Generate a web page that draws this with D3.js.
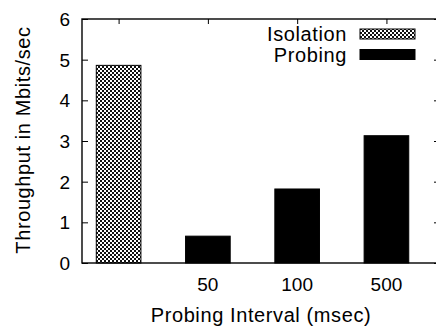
<!DOCTYPE html>
<meta charset="utf-8">
<style>
  body { margin: 0; background: #fff; }
  text { font-family: "Liberation Sans", Arial, sans-serif; font-size: 20px; letter-spacing: 0.6px; fill: #000; }
  text.ylab, text.xlab { font-size: 19px; letter-spacing: 0; }
</style>
<svg width="436" height="326"></svg>
<script src="https://d3js.org/d3.v7.min.js"></script>
<script>

// data
var categories = ["", "50", "100", "500"];
var series = ["Isolation", "Probing", "Probing", "Probing"];
var values = [4.86, 0.66, 1.82, 3.13];
var yTicks = [0, 1, 2, 3, 4, 5, 6];
var legendNames = ["Isolation", "Probing"];

var svg = d3.select("svg"),
    margin = {top: 19, left: 82, bottom: 263, right: 440};

var x = d3.scaleLinear().domain([-0.41, 3.6]).range([margin.left, margin.right]),
    y = d3.scaleLinear().domain([0, 6]).range([margin.bottom, margin.top]);

var barW = x(0.5) - x(0);

// checker pattern for the isolation bar
var pat = svg.append("defs").append("pattern")
    .attr("id", "checker")
    .attr("width", 4).attr("height", 4)
    .attr("patternUnits", "userSpaceOnUse");
pat.append("rect").attr("width", 4).attr("height", 4).attr("fill", "#fff");
pat.append("rect").attr("width", 2).attr("height", 2).attr("fill", "#111");
pat.append("rect").attr("x", 2).attr("y", 2).attr("width", 2).attr("height", 2).attr("fill", "#111");

function fillFor(s) { return s == "Isolation" ? "url(#checker)" : "#000"; }

// bars
svg.selectAll(".bar")
    .data(values)
    .enter().append("rect")
    .attr("class", "bar")
    .attr("x", function(d, i) { return x(i) - barW / 2; })
    .attr("y", function(d) { return y(d); })
    .attr("width", barW)
    .attr("height", function(d) { return y(0) - y(d); })
    .attr("fill", function(d, i) { return fillFor(series[i]); })
    .attr("stroke", "#000")
    .attr("stroke-width", 1);

// frame
svg.append("rect")
    .attr("x", margin.left).attr("y", margin.top)
    .attr("width", margin.right - margin.left)
    .attr("height", margin.bottom - margin.top)
    .attr("fill", "none").attr("stroke", "#000").attr("stroke-width", 1.4);

// y axis: ticks point inward
svg.append("g")
    .attr("transform", "translate(" + margin.left + ",0)")
    .call(d3.axisRight(y).tickValues(yTicks).tickSize(6).tickFormat(""))
    .call(function(g) { g.select(".domain").remove(); });
svg.append("g")
    .attr("transform", "translate(" + margin.right + ",0)")
    .call(d3.axisLeft(y).tickValues(yTicks).tickSize(6).tickFormat(""))
    .call(function(g) { g.select(".domain").remove(); });

svg.selectAll(".ylab")
    .data(yTicks)
    .enter().append("text")
    .attr("class", "ylab")
    .attr("x", 70)
    .attr("y", function(d) { return y(d) + 7; })
    .attr("text-anchor", "end")
    .text(function(d) { return d; });

// x ticks on top border
svg.append("g")
    .attr("transform", "translate(0," + margin.top + ")")
    .call(d3.axisBottom(x).tickValues(d3.range(categories.length)).tickSize(5).tickFormat(""))
    .call(function(g) { g.select(".domain").remove(); });

svg.selectAll(".xlab")
    .data(categories)
    .enter().append("text")
    .attr("class", "xlab")
    .attr("x", function(d, i) { return x(i); })
    .attr("y", 291)
    .attr("text-anchor", "middle")
    .text(function(d) { return d; });

svg.append("text")
    .attr("x", 261).attr("y", 322)
    .attr("text-anchor", "middle")
    .text("Probing Interval (msec)");

svg.append("text")
    .attr("transform", "translate(30,140) rotate(-90)")
    .attr("text-anchor", "middle")
    .text("Throughput in Mbits/sec");

// legend
var legend = svg.selectAll(".legend")
    .data(legendNames)
    .enter().append("g")
    .attr("class", "legend")
    .attr("transform", function(d, i) { return "translate(0," + (i * 20.5) + ")"; });

legend.append("rect")
    .attr("x", 360).attr("y", 29)
    .attr("width", 55).attr("height", 10)
    .attr("fill", function(d) { return fillFor(d); })
    .attr("stroke", "#000");

legend.append("text")
    .attr("x", 347).attr("y", 41)
    .attr("text-anchor", "end")
    .text(function(d) { return d; });

</script>
</html>
